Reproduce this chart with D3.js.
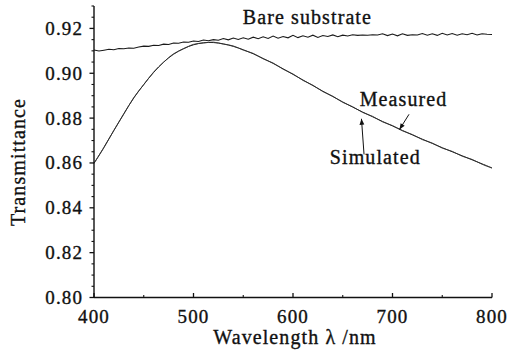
<!DOCTYPE html>
<html>
<head>
<meta charset="utf-8">
<script src="https://cdn.jsdelivr.net/npm/d3@7/dist/d3.min.js"></script>
<style>
  html, body { margin: 0; padding: 0; background: #fff; }
  svg { display: block; }
  text { font-family: "Liberation Serif", "Times New Roman", serif; fill: #111; stroke: #111; stroke-width: 0.35px; letter-spacing: 1.1px; }
</style>
</head>
<body>
<div id="chart"></div>
<script>
// Wavelength grids (nm)
const bareWavelengths = d3.range(400, 801, 5);
const curveWavelengths = d3.range(400, 801, 10);

// Transmittance of the uncoated substrate, 5 nm steps
const bareValues = [
  0.9104, 0.9099, 0.9103, 0.9107, 0.9105, 0.9110, 0.9109, 0.9113, 0.9112, 0.9117,
  0.9121, 0.9120, 0.9125, 0.9124, 0.9130, 0.9128, 0.9135, 0.9134, 0.9139, 0.9138,
  0.9144, 0.9142, 0.9148, 0.9145, 0.9150, 0.9147, 0.9155, 0.9149, 0.9157, 0.9151,
  0.9158, 0.9152, 0.9161, 0.9154, 0.9163, 0.9155, 0.9166, 0.9156, 0.9164, 0.9158,
  0.9169, 0.9159, 0.9167, 0.9161, 0.9170, 0.9160, 0.9168, 0.9164, 0.9171, 0.9163,
  0.9170, 0.9166, 0.9172, 0.9169, 0.9171, 0.9170, 0.9172, 0.9171, 0.9176, 0.9168,
  0.9175, 0.9167, 0.9176, 0.9169, 0.9172, 0.9171, 0.9177, 0.9170, 0.9176, 0.9169,
  0.9178, 0.9171, 0.9177, 0.9170, 0.9176, 0.9172, 0.9178, 0.9171, 0.9176, 0.9174,
  0.9173
];

// Coated sample, measured, 10 nm steps
const measuredValues = [
  0.8599, 0.8668, 0.8746, 0.8818, 0.8892, 0.8949, 0.9006, 0.9049, 0.9087, 0.9109,
  0.9129, 0.9135, 0.9139, 0.9130, 0.9122, 0.9103, 0.9089, 0.9064, 0.9046, 0.9018,
  0.8997, 0.8968, 0.8947, 0.8918, 0.8898, 0.8870, 0.8851, 0.8825, 0.8808, 0.8783,
  0.8767, 0.8743, 0.8727, 0.8704, 0.8689, 0.8666, 0.8652, 0.8630, 0.8616, 0.8594,
  0.8577
];

// Coated sample, simulated, 10 nm steps
const simulatedValues = [
  0.8598, 0.8670, 0.8745, 0.8820, 0.8890, 0.8950, 0.9004, 0.9050, 0.9085, 0.9110,
  0.9127, 0.9136, 0.9137, 0.9131, 0.9120, 0.9105, 0.9087, 0.9066, 0.9044, 0.9020,
  0.8995, 0.8970, 0.8945, 0.8920, 0.8896, 0.8872, 0.8849, 0.8827, 0.8806, 0.8785,
  0.8765, 0.8745, 0.8725, 0.8706, 0.8687, 0.8668, 0.8650, 0.8632, 0.8614, 0.8596,
  0.8578
];

// Axis ticks
const xTickValues = [400, 500, 600, 700, 800];
const xMinorTicks = [450, 550, 650, 750];
const yTickValues = [0.80, 0.82, 0.84, 0.86, 0.88, 0.90, 0.92];
const yMinorTicks = [0.805, 0.81, 0.815, 0.825, 0.83, 0.835, 0.845, 0.85, 0.855,
  0.865, 0.87, 0.875, 0.885, 0.89, 0.895, 0.905, 0.91, 0.915, 0.925, 0.93];

const W = 516, H = 353;
const svg = d3.select("#chart").append("svg").attr("width", W).attr("height", H);

const x = d3.scaleLinear().domain([400, 800]).range([94, 492]);
const y = d3.scaleLinear().domain([0.80, 0.93]).range([297.5, 6]);

const line = d3.line().x(d => x(d[0])).y(d => y(d[1]));
const smooth = d3.line().curve(d3.curveCatmullRom).x(d => x(d[0])).y(d => y(d[1]));

const bare = bareWavelengths.map((w, i) => [w, bareValues[i]]);
const measured = curveWavelengths.map((w, i) => [w, measuredValues[i]]);
const simulated = curveWavelengths.map((w, i) => [w, simulatedValues[i]]);

// Curves
svg.append("path").datum(bare).attr("d", line)
  .attr("fill", "none").attr("stroke", "#1a1a1a").attr("stroke-width", 1.05);
svg.append("path").datum(simulated).attr("d", smooth)
  .attr("fill", "none").attr("stroke", "#1a1a1a").attr("stroke-width", 1);
svg.append("path").datum(measured).attr("d", smooth)
  .attr("fill", "none").attr("stroke", "#333").attr("stroke-width", 0.8);

// X axis: ticks point up into the plot
const xAxis = svg.append("g").attr("transform", `translate(0,${y(0.80)})`);
xAxis.append("line").attr("x1", x(400)).attr("x2", x(800)).attr("stroke", "#111").attr("stroke-width", 1.4);
xAxis.selectAll(".xmaj").data(xTickValues).join("line")
  .attr("class", "xmaj")
  .attr("x1", d => x(d)).attr("x2", d => x(d)).attr("y1", 0).attr("y2", -4.5)
  .attr("stroke", "#111").attr("stroke-width", 1.3);
xAxis.selectAll(".xmin").data(xMinorTicks).join("line")
  .attr("class", "xmin")
  .attr("x1", d => x(d)).attr("x2", d => x(d)).attr("y1", 0).attr("y2", -2.5)
  .attr("stroke", "#111").attr("stroke-width", 1.1);
xAxis.selectAll("text").data(xTickValues).join("text")
  .attr("x", d => x(d)).attr("y", 25).attr("text-anchor", "middle")
  .attr("font-size", 19).text(d => d);

// Y axis: ticks point outward
const yAxis = svg.append("g").attr("transform", `translate(${x(400)},0)`);
yAxis.append("line").attr("y1", y(0.80)).attr("y2", y(0.93)).attr("stroke", "#111").attr("stroke-width", 1.4);
yAxis.selectAll(".ymaj").data(yTickValues).join("line")
  .attr("class", "ymaj")
  .attr("y1", d => y(d)).attr("y2", d => y(d)).attr("x1", 0).attr("x2", -4.5)
  .attr("stroke", "#111").attr("stroke-width", 1.3);
yAxis.selectAll(".ymin").data(yMinorTicks).join("line")
  .attr("class", "ymin")
  .attr("y1", d => y(d)).attr("y2", d => y(d)).attr("x1", 0).attr("x2", -2.5)
  .attr("stroke", "#111").attr("stroke-width", 1.1);
yAxis.selectAll("text").data(yTickValues).join("text")
  .attr("x", -11).attr("y", d => y(d)).attr("dy", "0.34em").attr("text-anchor", "end")
  .attr("font-size", 19).text(d => d3.format(".2f")(d));

// Axis titles
svg.append("text").attr("x", 295).attr("y", 344).attr("text-anchor", "middle")
  .attr("font-size", 20).text("Wavelength λ /nm");
svg.append("text").attr("transform", "translate(25,162) rotate(-90)")
  .attr("text-anchor", "middle").attr("font-size", 20).text("Transmittance");

// Annotations (placed in data units)
svg.append("text").attr("x", x(549.5)).attr("y", y(0.9219)).attr("font-size", 20).text("Bare substrate");
svg.append("text").attr("x", x(667)).attr("y", y(0.8852)).attr("font-size", 20).text("Measured");
svg.append("text").attr("x", x(637)).attr("y", y(0.8597)).attr("font-size", 20).text("Simulated");

svg.append("defs").append("marker")
  .attr("id", "head").attr("viewBox", "0 0 10 10").attr("refX", 10).attr("refY", 5)
  .attr("markerWidth", 7).attr("markerHeight", 6).attr("markerUnits", "userSpaceOnUse")
  .attr("orient", "auto")
  .append("path").attr("d", "M0,1 L10,5 L0,9 Z").attr("fill", "#111");

const arrows = [
  { from: [716.6, 0.8817], to: [707, 0.8749] },
  { from: [671.4, 0.8638], to: [668.8, 0.8797] }
];
svg.selectAll(".arrow").data(arrows).join("line")
  .attr("class", "arrow")
  .attr("x1", d => x(d.from[0])).attr("y1", d => y(d.from[1]))
  .attr("x2", d => x(d.to[0])).attr("y2", d => y(d.to[1]))
  .attr("stroke", "#111").attr("stroke-width", 1)
  .attr("marker-end", "url(#head)");
</script>
</body>
</html>
